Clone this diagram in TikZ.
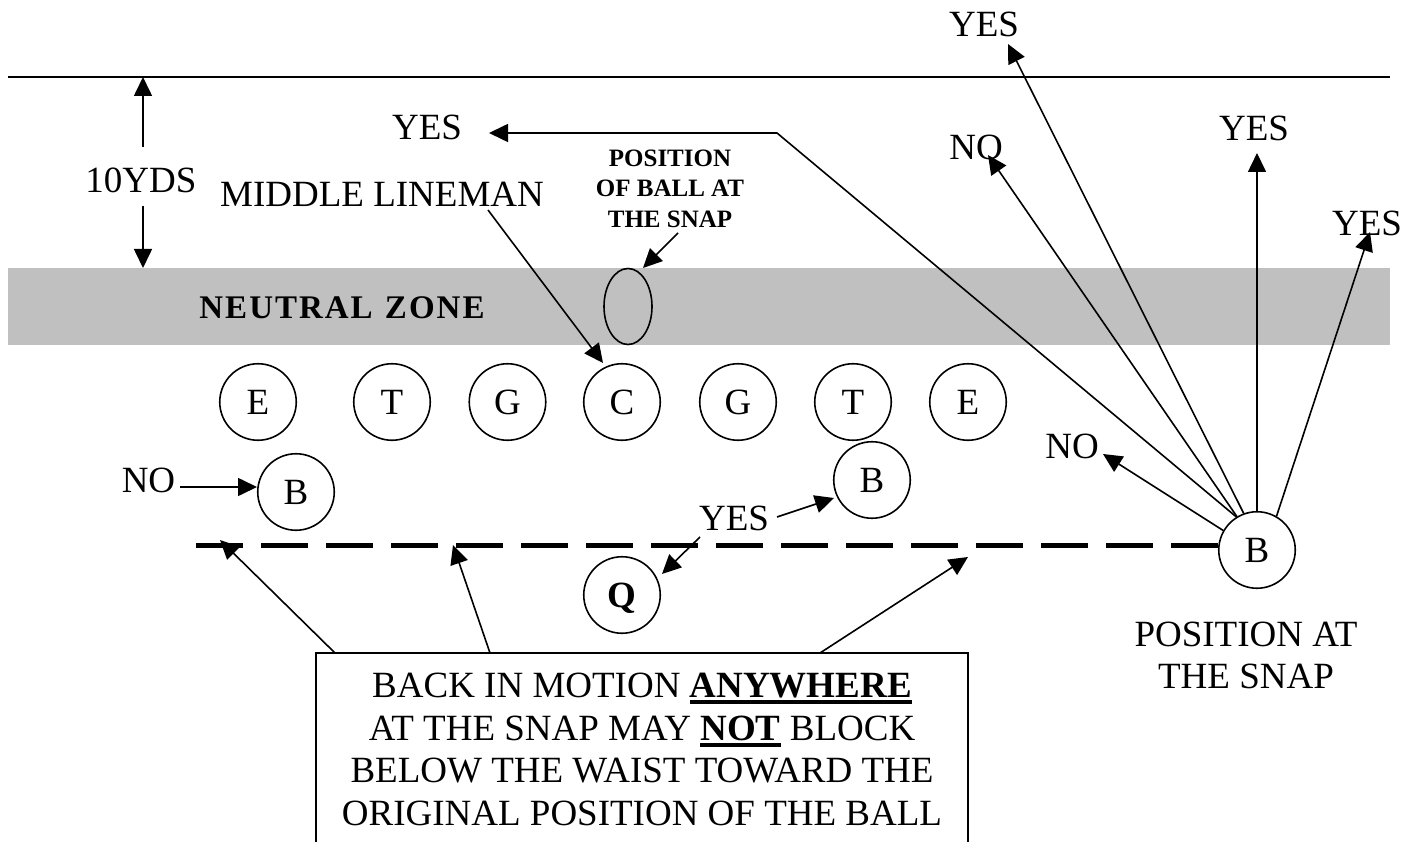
\documentclass[tikz,border=0pt]{standalone}
\usepackage{fontspec}
\setmainfont{Liberation Serif}
\usetikzlibrary{arrows.meta,shapes.geometric}
\definecolor{zonegray}{RGB}{192,192,192}
\newcommand\ulbf[1]{\setbox0\hbox{\bfseries #1}\rlap{\rule[-7pt]{\wd0}{4pt}}\box0\relax}
\newcommand\lsk{\kern2pt}
\begin{document}
\begin{tikzpicture}[x=1pt,y=-1pt,
  big/.style={font=\fontsize{37}{42.7}\selectfont},
  lbl/.style={big,anchor=base,inner sep=0pt},
  smallbold/.style={anchor=base,inner sep=0pt,font=\fontsize{25}{30}\selectfont\bfseries},
  player/.style={big,draw,circle,line width=1.6pt,minimum size=76.5pt,inner sep=0pt,text height=24.5pt,text depth=0pt},
  arr/.style={line width=1.6pt,-{Triangle[length=19pt,width=18pt]}},
  thin/.style={line width=1.6pt}
]
\clip (0,0) rectangle (1418,842);
% neutral zone band
\fill[zonegray] (8,268) rectangle (1390,345);
\node[anchor=base,inner sep=0pt,font=\fontsize{33}{38}\selectfont\bfseries] (nz) at (342,318)
  {N\lsk E\lsk U\lsk T\lsk R\lsk A\lsk L\lsk\ \lsk Z\lsk O\lsk N\lsk E};
% top line (10 yds)
\draw[line width=2pt] (8,77) -- (1390,77);
% 10 yds
\node[lbl] (yds) at (141,193) {10YDS};
\coordinate (ydsA) at (143,147);
\coordinate (ydsAt) at (143,77);
\coordinate (ydsB) at (143,206);
\coordinate (ydsBt) at (143,268);
\draw[arr] (ydsA) -- (ydsAt);
\draw[arr] (ydsB) -- (ydsBt);
% ball
\node[draw,ellipse,line width=1.6pt,minimum width=48pt,minimum height=76pt,inner sep=0pt] (ball) at (628,306.5) {};
% labels top
\node[lbl] (mid) at (382,207) {MIDDLE LINEMAN};
\node[lbl] (yesL) at (427,140) {YES};
\node[smallbold] (pos1) at (670,167) {POSITION};
\node[smallbold] (pos2) at (670,197) {OF BALL AT};
\node[smallbold] (pos3) at (670,228) {THE SNAP};
% players
\node[player] (E1) at (258,402) {E};
\node[player] (T1) at (392,402) {T};
\node[player] (G1) at (507.5,402) {G};
\node[player] (C) at (622,402) {C};
\node[player] (G2) at (738,402) {G};
\node[player] (T2) at (853,402) {T};
\node[player] (E2) at (968,402) {E};
\node[player] (B1) at (296,492) {B};
\node[player] (B2) at (872,480) {B};
\node[player,font=\fontsize{37}{42.7}\selectfont\bfseries] (Q) at (622,595) {Q};
\node[player] (B3) at (1257,550) {B};
% backfield dashed line
\coordinate (dR) at (1218,545.5);
\coordinate (dL) at (193,545.5);
\draw[line width=5.5pt,dash pattern=on 47pt off 18pt] (dR) -- (dL);
% middle lineman arrow
\coordinate (midS) at (488,210);
\coordinate (midT) at (603,363);
\draw[arr] (midS) -- (midT);
% ball arrow
\coordinate (ballS) at (678,233);
\coordinate (ballT) at (643,268);
\draw[arr] (ballS) -- (ballT);
% left NO
\node[lbl] (noL) at (148.5,492) {NO};
\coordinate (noLS) at (180,487);
\coordinate (noLT) at (257,487);
\draw[arr] (noLS) -- (noLT);
% middle YES
\node[lbl] (yesM) at (734,530) {YES};
\coordinate (yesMa) at (777,517);
\coordinate (yesMaT) at (834,498);
\coordinate (yesMb) at (700,537);
\coordinate (yesMbT) at (662,574);
\draw[arr] (yesMa) -- (yesMaT);
\draw[arr] (yesMb) -- (yesMbT);
% right back fan
\node[lbl] (yesT) at (984,37) {YES};
\node[lbl] (noU) at (976,160) {NO};
\node[lbl] (yesV) at (1254,141) {YES};
\node[lbl] (yesR) at (1367,236) {YES};
\node[lbl] (noR) at (1072,458) {NO};
\coordinate (corner) at (777,133);
\coordinate (yesLT) at (489,133);
\coordinate (noUT) at (988,155);
\coordinate (yesTT) at (1008,44);
\coordinate (yesVT) at (1257,153);
\coordinate (yesRT) at (1370,232);
\coordinate (noRT) at (1103,454);
\draw[arr] (B3.122) -- (corner) -- (yesLT);
\draw[arr] (B3.121) -- (noUT);
\draw[arr] (B3.110) -- (yesTT);
\draw[arr] (B3.90) -- (yesVT);
\draw[arr] (B3.60) -- (yesRT);
\draw[arr] (B3.150) -- (noRT);
% position at the snap
\begin{scope}
\clip (1100,600) rectangle (1400,689);
\node[lbl] (pas1) at (1246,646) {POSITION AT};
\node[lbl] (pas2) at (1246,688) {THE SNAP};
\end{scope}
% bottom box
\draw[thin] (316,900) -- (316,653) -- (968,653) -- (968,900);
\node[lbl] (t1) at (642,697) {BACK IN MOTION \ulbf{ANYWHERE}};
\node[lbl] (t2) at (642,740) {AT THE SNAP MAY \ulbf{NOT} BLOCK};
\node[lbl] (t3) at (642,782) {BELOW THE WAIST TOWARD THE};
\node[lbl] (t4) at (642,825) {ORIGINAL POSITION OF THE BALL};
\coordinate (bx1) at (335,653);
\coordinate (bx1T) at (220,540);
\coordinate (bx2) at (490,653);
\coordinate (bx2T) at (453,545);
\coordinate (bx3) at (820,653);
\coordinate (bx3T) at (968,557);
\draw[arr] (bx1) -- (bx1T);
\draw[arr] (bx2) -- (bx2T);
\draw[arr] (bx3) -- (bx3T);
\end{tikzpicture}
\end{document}
